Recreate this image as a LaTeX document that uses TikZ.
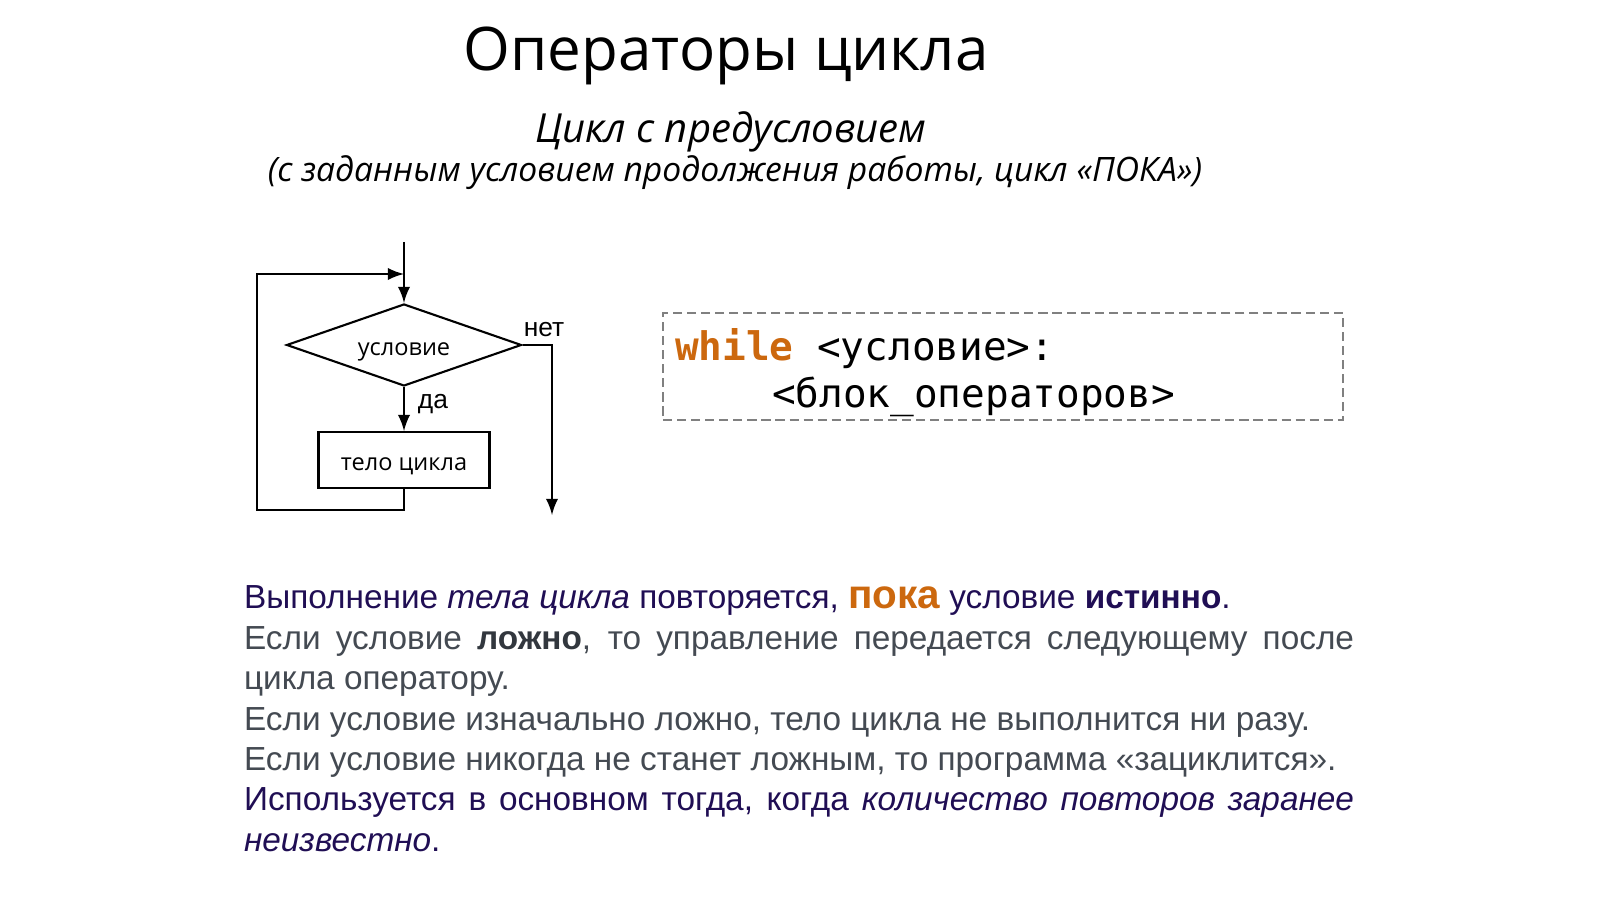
\documentclass[tikz,border=0pt]{standalone}
\usepackage{fontspec}
\setmainfont{Liberation Sans}
\setmonofont{DejaVu Sans Mono}
\newfontfamily\headfont{Open Sans}
\usetikzlibrary{positioning,shapes.geometric}

\definecolor{txtpurple}{RGB}{32,14,84}
\definecolor{txtgray}{RGB}{68,74,82}
\definecolor{txtdark}{RGB}{50,55,62}
\definecolor{kworange}{RGB}{204,104,14}

\begin{document}
\begin{tikzpicture}[node distance=6mm, >=latex, line width=0.6pt,
    every node/.style={inner sep=0pt},
    lbl/.style={font=\fontsize{7.5pt}{9pt}\selectfont},
    blk/.style={draw, text height=5.8pt, text depth=0pt, font=\headfont\fontsize{6.7pt}{9pt}\selectfont},
    code/.style={anchor=base west, font=\ttfamily\fontsize{11.2pt}{13pt}\selectfont}]
  \useasboundingbox[fill=white] (0,0) rectangle (16,-8.99);

  % headings
  \node[anchor=base, font=\headfont\fontsize{17.1pt}{21pt}\selectfont] (title) at (7.26,-0.71) {Операторы цикла};
  \node[anchor=base, font=\headfont\itshape\fontsize{11.4pt}{13pt}\selectfont] (sub) at (7.31,-1.43) {Цикл с предусловием};
  \node[anchor=base, font=\headfont\itshape\fontsize{9.57pt}{11pt}\selectfont] (subnote) at (7.35,-1.82) {(с заданным условием продолжения работы, цикл «ПОКА»)};

  % flowchart
  \node[blk, diamond, aspect=2.87, minimum width=2.35cm, minimum height=0.82cm] (cond) at (4.04,-3.45) {условие};
  \node[blk, below=4.4mm of cond, minimum width=1.71cm, minimum height=0.56cm] (body) {тело цикла};
  \coordinate (entry) at (4.04,-2.42);
  \coordinate (loopin) at (4.04,-2.74);
  \coordinate (back) at (2.57,-5.10);
  \coordinate (exit) at (5.52,-5.15);
  \draw[->] (entry) -- (cond);
  \draw[->] (cond) -- (body);
  \draw[->] (body) |- (back) |- (loopin);
  \draw[->] (cond.east) -| (exit);
  \node[lbl, anchor=base] (yes) at (4.33,-4.09) {да};
  \node[lbl, anchor=base] (no) at (5.44,-3.37) {нет};

  % code
  \node[draw=gray, dashed, dash pattern=on 2.6pt off 1.4pt, line width=0.5pt,
        minimum width=6.8cm, minimum height=1.07cm] (codebox) at (10.03,-3.665) {};
  \node[code] (head) at (6.74,-3.61) {{\bfseries\color{kworange}while} <условие>:};
  \node[code] (block) at (7.71,-4.08) {<блок\_операторов>};

  % rules
  \node[anchor=base west, text width=11.1cm, align=justify, text=txtgray,
        font=\fontsize{9.49pt}{11.49pt}\selectfont] (rules) at (2.43,-6.09) {%
    \hyphenpenalty=10000\relax
    {\color{txtpurple}Выполнение \textit{тела цикла} повторяется, {\fontsize{11.5pt}{11.49pt}\selectfont\bfseries\color{kworange}пока} условие \textbf{истинно}.}\\
    Если условие \textbf{\color{txtdark}ложно}, то управление передается следующему после цикла оператору.\\
    Если условие изначально ложно, тело цикла не выполнится ни разу.\\
    Если условие никогда не станет ложным, то программа «зациклится».\\
    {\color{txtpurple}Используется в основном тогда, когда \textit{количество повторов заранее неизвестно}.}};
\end{tikzpicture}
\end{document}
